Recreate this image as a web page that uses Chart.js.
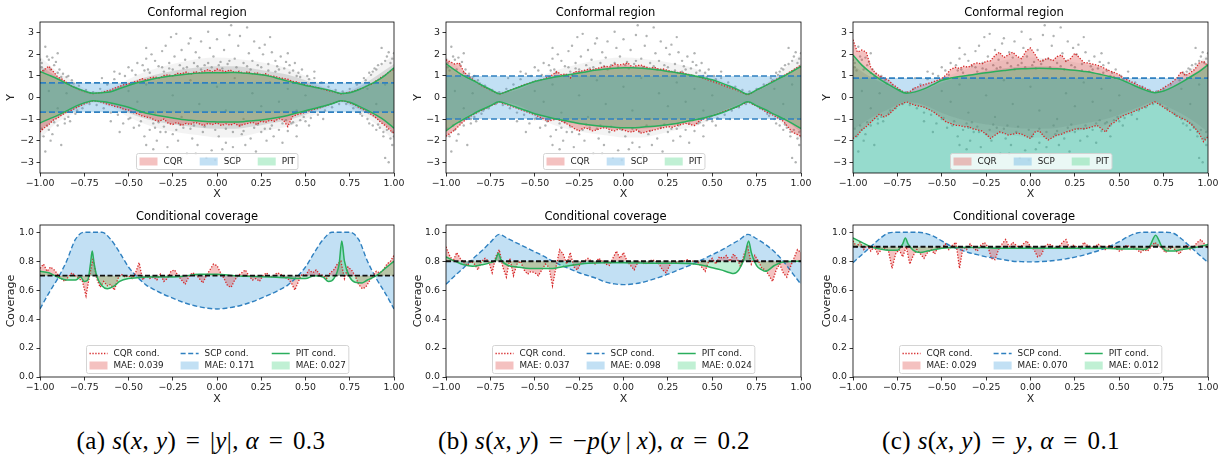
<!DOCTYPE html>
<html lang="en">
<head>
<meta charset="UTF-8">
<title>Conformal regions and conditional coverage</title>
<script src="https://cdn.jsdelivr.net/npm/chart.js@4.4.1/dist/chart.umd.min.js"></script>
<style>
    body { margin: 0; background: #fff; width: 1230px; height: 456px; position: relative; overflow: hidden; }
    canvas { position: absolute; }
    .cap {
        position: absolute; top: 428px; line-height: 26px;
        font-family: "Liberation Serif", "DejaVu Serif", serif; font-size: 25px; letter-spacing: 0.4px;
        white-space: nowrap; transform: translateX(-50%); color: #000;
    }
    .eq { margin: 0 3px; }
</style>
</head>
<body>
<canvas id="regA" width="410" height="205" style="left:0;top:0"></canvas>
<canvas id="regB" width="410" height="205" style="left:410px;top:0"></canvas>
<canvas id="regC" width="410" height="205" style="left:820px;top:0"></canvas>
<canvas id="covA" width="410" height="205" style="left:0;top:205px"></canvas>
<canvas id="covB" width="410" height="205" style="left:410px;top:205px"></canvas>
<canvas id="covC" width="410" height="205" style="left:820px;top:205px"></canvas>

<div class="cap" style="left:201px">(a) <i>s</i>(<i>x</i>, <i>y</i>) <span class="eq">=</span> |<i>y</i>|, <i>α</i> <span class="eq">=</span> 0.3</div>
<div class="cap" style="left:594px">(b) <i>s</i>(<i>x</i>, <i>y</i>) <span class="eq">=</span> −<i>p</i>(<i>y</i>&thinsp;|&thinsp;<i>x</i>), <i>α</i> <span class="eq">=</span> 0.2</div>
<div class="cap" style="left:1001px">(c) <i>s</i>(<i>x</i>, <i>y</i>) <span class="eq">=</span> <i>y</i>, <i>α</i> <span class="eq">=</span> 0.1</div>

<script>
// ---- data ----
const xTicks = [-1, -0.75, -0.5, -0.25, 0, 0.25, 0.5, 0.75, 1];
const yTicksRegion = [-3, -2, -1, 0, 1, 2, 3];
const yTicksCoverage = [0, 0.2, 0.4, 0.6, 0.8, 1.0];

const targetCoverage = [0.7, 0.8, 0.9];
const scpHalfWidth = [0.68, 1.0, 0.9];   // (c) is one-sided: only the upper bound
const maeCQR = ['0.039', '0.037', '0.029'];
const maeSCP = ['0.171', '0.098', '0.070'];
const maePIT = ['0.027', '0.024', '0.012'];

// where the point cloud is dense (x = -1..1 step 0.1): inner core and outer halo
const coreHi = [1.5, 0.95, 0.55, 0.22, 0.35, 0.7, 0.95, 1.15, 1.3, 1.4, 1.45, 1.45, 1.35, 1.2, 1.05, 0.8, 0.48, 0.22, 0.5, 1.0, 1.55];
const coreLo = [-1.5, -0.95, -0.55, -0.2, -0.35, -0.72, -1.0, -1.18, -1.3, -1.4, -1.45, -1.45, -1.35, -1.2, -1.05, -0.8, -0.48, -0.2, -0.55, -1.0, -1.6];
const haloHi = [1.9, 1.2, 0.7, 0.3, 0.45, 0.85, 1.2, 1.45, 1.65, 1.8, 1.85, 1.8, 1.7, 1.55, 1.35, 1.0, 0.6, 0.3, 0.65, 1.3, 2.0];
const haloLo = [-1.9, -1.15, -0.7, -0.25, -0.45, -0.9, -1.25, -1.5, -1.65, -1.75, -1.85, -1.85, -1.7, -1.5, -1.35, -1.0, -0.6, -0.25, -0.7, -1.25, -2.0];

// sparse samples (x, y), same data set in the three panels
const samples = [
    [-0.99, 1.6], [-0.97, 2.35], [-0.96, 1.9], [-0.95, 1.75], [-0.93, 1.85], [-0.92, 1.5], [-0.9, 2.05], [-0.89, 1.3],
    [-0.87, 1.1], [-0.98, -1.8], [-0.97, -2.5], [-0.95, -1.5], [-0.93, -1.7], [-0.9, -1.3], [-0.88, -2.2], [-0.86, -1.0],
    [-0.99, 1.4], [-0.94, -2.0], [-0.91, 1.65], [-0.85, 0.95], [-0.84, -0.9], [-0.82, 0.8], [-0.8, -0.75],
    [-0.78, 0.55], [-0.76, -0.5], [-0.74, 0.35], [-0.72, -0.3], [-0.7, 0.25], [-0.68, -0.35], [-0.66, 0.4], [-0.64, -0.5],
    [-0.62, 0.6], [-0.6, -0.7], [-0.58, 0.85], [-0.56, -0.8],
    [-0.55, 1.1], [-0.53, -1.2], [-0.5, 1.4], [-0.5, -1.0], [-0.48, 1.25], [-0.47, -1.4], [-0.45, 1.6], [-0.44, -1.3],
    [-0.42, 1.5], [-0.41, -1.8], [-0.4, 1.8], [-0.39, 1.3], [-0.38, -1.5], [-0.37, 2.0], [-0.36, -1.2], [-0.35, 1.7],
    [-0.34, -2.0], [-0.33, 1.45], [-0.32, -1.6], [-0.31, 2.15], [-0.3, 1.2], [-0.3, -1.35],
    [-0.29, 2.4], [-0.28, -2.3], [-0.27, 1.6], [-0.26, 2.8], [-0.25, -1.7], [-0.24, 1.9], [-0.23, 2.95], [-0.22, -2.0],
    [-0.21, 1.5], [-0.2, 2.2], [-0.19, -1.4], [-0.18, 1.75], [-0.17, -2.6], [-0.16, 2.5], [-0.15, 2.75], [-0.14, -1.9],
    [-0.13, 1.6], [-0.12, 2.1], [-0.11, -2.2], [-0.1, 1.85], [-0.09, 2.6], [-0.08, -1.6], [-0.07, 1.5], [-0.06, -2.8],
    [-0.05, 3.05], [-0.04, 2.3], [-0.03, -2.45], [-0.02, 1.9], [-0.01, -2.9], [0, 2.7], [0.01, -1.8], [0.02, 1.65],
    [0.03, -2.4], [0.04, 2.2], [0.05, -2.1], [0.06, 1.55], [0.07, 2.9], [0.08, 3.35], [0.09, -2.3], [0.1, 1.8],
    [0.11, -2.7], [0.12, 2.4], [0.13, 2.85], [0.14, -1.7], [0.15, 1.6], [0.16, -2.2], [0.17, 3.25], [0.18, 2.05],
    [0.19, -1.9], [0.2, 1.7], [0.21, 2.6], [0.22, -2.5], [0.23, 1.5], [0.24, 2.3], [0.25, -1.6], [0.26, 2.0],
    [0.27, 2.45], [0.28, -2.0], [0.29, 1.55], [0.3, -1.45],
    [0.31, 2.1], [0.32, -1.8], [0.33, 1.7], [0.34, 1.45], [0.35, -1.5], [0.36, 1.9], [0.37, -2.1], [0.38, 1.35],
    [0.39, 1.65], [0.4, -1.55], [0.41, 1.5], [0.42, -1.2], [0.43, 1.25], [0.44, 1.6], [0.45, -1.3], [0.46, 1.15],
    [0.47, -1.05], [0.48, 1.3], [0.5, -1.1], [0.51, 1.0], [0.53, -0.95], [0.55, 0.9],
    [0.57, -0.8], [0.59, 0.7], [0.61, -0.6], [0.63, 0.5], [0.65, -0.45], [0.67, 0.35], [0.69, -0.3], [0.71, 0.28],
    [0.73, -0.3], [0.75, 0.4], [0.77, -0.5], [0.79, 0.6], [0.81, -0.75],
    [0.83, 0.9], [0.85, -1.0], [0.86, 1.15], [0.88, -1.3], [0.89, 1.35], [0.9, -1.5], [0.91, 1.5], [0.92, -1.4],
    [0.93, 2.3], [0.94, -1.8], [0.95, 1.7], [0.95, -2.8], [0.96, 1.9], [0.97, -3.0], [0.97, 2.1], [0.98, -1.9],
    [0.99, 1.8], [0.99, -2.2], [1.0, 2.05], [0.87, 1.05],
    [-0.95, 0.3], [-0.9, -0.5], [-0.85, 0.2], [-0.5, 0.3], [-0.45, -0.2], [-0.4, 0.6], [-0.35, -0.7], [-0.25, 0.1],
    [-0.2, -0.9], [-0.15, 0.8], [-0.1, -0.3], [0, 0.5], [0.05, -0.6], [0.1, 0.9], [0.15, -1.0], [0.2, 0.2],
    [0.25, -0.4], [0.3, 0.7], [0.35, -0.2], [0.4, 0.4], [0.45, -0.6], [0.5, 0.1], [0.85, 0.4], [0.9, -0.3], [0.95, 0.6],
    [-1.0, 1.75], [-0.98, 1.25], [-0.96, -1.3], [-0.99, -1.45], [-0.94, 1.3], [-0.92, -1.15], [-0.9, 1.15], [-0.88, 0.95],
    [-0.86, -1.2], [-0.84, 1.0], [-0.83, -1.1], [-0.81, 0.65], [-0.79, -0.6],
    [-0.52, 1.0], [-0.49, -0.95], [-0.46, 1.05], [-0.43, -1.1], [-0.41, 1.25], [-0.38, 1.15], [-0.35, -1.4], [-0.33, -1.15],
    [-0.31, 1.4], [-0.29, -1.6], [-0.27, 1.35], [-0.25, 1.3], [-0.23, -1.5], [-0.21, -1.25], [-0.19, 1.35], [-0.17, 1.4],
    [-0.15, -1.45], [-0.13, -1.3], [-0.11, 1.45], [-0.09, 1.3], [-0.07, -1.35], [-0.05, 1.6], [-0.03, 1.4], [-0.01, -1.5],
    [0.01, 1.5], [0.03, 1.35], [0.05, -1.45], [0.07, 1.7], [0.09, -1.6], [0.11, 1.4], [0.13, -1.3], [0.15, -1.55],
    [0.17, 1.45], [0.19, 1.3], [0.21, -1.4], [0.23, -1.25], [0.25, 1.4], [0.27, -1.45], [0.29, 1.25], [0.31, -1.3],
    [0.33, 1.2], [0.35, 1.3], [0.37, -1.2], [0.39, -1.05], [0.41, 1.15], [0.43, -1.15], [0.45, 1.0], [0.47, 0.95],
    [0.49, -0.9], [0.52, 0.85],
    [0.82, -0.85], [0.84, 0.8], [0.86, -1.2], [0.88, 1.2], [0.9, 1.3], [0.91, -1.25], [0.93, 1.55], [0.94, -1.6],
    [0.96, -1.5], [0.98, 1.6], [0.99, -1.6], [1.0, -1.8],
    [-0.6, -1.1], [-0.58, 1.2], [-0.55, -1.6], [-0.4, 2.3], [-0.36, -2.4], [0.4, 2.05], [0.45, -1.8], [0.52, -1.3],
    [0.55, 1.2], [0.6, -1.0], [-0.65, 0.9], [-0.2, -2.8], [0.1, -3.0], [-0.12, -2.6], [0.3, 2.8], [-0.4, -2.2]
];

// PIT region bounds (x = -1..1 step 0.05)
const pitHiA = [1.21, 1.04, 0.86, 0.65, 0.45, 0.3, 0.2, 0.22, 0.27, 0.42, 0.56, 0.68, 0.79, 0.88, 0.95, 1.01, 1.06, 1.1, 1.13, 1.15, 1.15, 1.15, 1.16, 1.13, 1.1, 1.05, 0.98, 0.87, 0.76, 0.66, 0.56, 0.48, 0.4, 0.3, 0.19, 0.22, 0.36, 0.55, 0.76, 1.03, 1.38];
const pitLoA = [-1.18, -1.0, -0.83, -0.62, -0.41, -0.25, -0.15, -0.19, -0.26, -0.35, -0.45, -0.6, -0.73, -0.81, -0.88, -0.95, -1.02, -1.06, -1.09, -1.12, -1.13, -1.14, -1.14, -1.12, -1.08, -1.04, -0.99, -0.92, -0.83, -0.72, -0.61, -0.51, -0.41, -0.29, -0.15, -0.22, -0.4, -0.6, -0.82, -1.08, -1.42];
const pitHiB = [1.57, 1.27, 1.0, 0.8, 0.58, 0.37, 0.17, 0.3, 0.45, 0.6, 0.74, 0.84, 0.93, 1.0, 1.07, 1.14, 1.21, 1.27, 1.32, 1.36, 1.38, 1.38, 1.36, 1.32, 1.27, 1.21, 1.15, 1.08, 1.0, 0.92, 0.82, 0.68, 0.52, 0.34, 0.15, 0.35, 0.55, 0.76, 0.98, 1.2, 1.44];
const pitLoB = [-1.55, -1.25, -1.0, -0.78, -0.57, -0.38, -0.2, -0.32, -0.46, -0.6, -0.75, -0.86, -0.96, -1.04, -1.12, -1.2, -1.26, -1.31, -1.35, -1.38, -1.4, -1.4, -1.38, -1.35, -1.31, -1.26, -1.2, -1.12, -1.04, -0.95, -0.85, -0.72, -0.56, -0.38, -0.2, -0.38, -0.57, -0.78, -0.98, -1.2, -1.44];
const pitHiC = [1.97, 1.5, 1.15, 0.85, 0.6, 0.37, 0.2, 0.26, 0.4, 0.6, 0.8, 0.9, 0.97, 1.03, 1.09, 1.15, 1.2, 1.25, 1.3, 1.33, 1.35, 1.36, 1.35, 1.33, 1.3, 1.26, 1.21, 1.15, 1.06, 0.96, 0.85, 0.68, 0.5, 0.33, 0.22, 0.3, 0.48, 0.7, 0.95, 1.2, 1.52];

// CQR region bounds (x = -1..1 step 0.025)
const cqrHiA = [1.15, 1.3, 1.45, 1.2, 0.95, 0.85, 0.7, 0.55, 0.45, 0.35, 0.28, 0.22, 0.18, 0.2, 0.24, 0.3, 0.35, 0.45, 0.52, 0.6, 0.62, 0.72, 0.75, 0.88, 0.82, 0.92, 0.95, 0.9, 1.02, 1.05, 1.0, 1.12, 1.1, 1.18, 1.08, 1.2, 1.15, 1.22, 1.3, 1.18, 1.32, 1.25, 1.2, 1.28, 1.15, 1.22, 1.12, 1.2, 1.1, 1.15, 1.05, 1.1, 1.0, 0.98, 0.92, 0.88, 0.85, 0.75, 0.72, 0.65, 0.58, 0.55, 0.48, 0.45, 0.38, 0.32, 0.28, 0.22, 0.17, 0.2, 0.25, 0.3, 0.38, 0.45, 0.55, 0.62, 0.78, 0.92, 1.05, 1.2, 1.3];
const cqrLoA = [-1.6, -1.4, -1.25, -1.05, -0.95, -0.8, -0.68, -0.6, -0.5, -0.38, -0.3, -0.22, -0.15, -0.18, -0.22, -0.3, -0.35, -0.42, -0.45, -0.55, -0.58, -0.7, -0.75, -0.85, -0.9, -0.95, -1.05, -1.1, -1.0, -1.2, -1.25, -1.15, -1.3, -1.2, -1.25, -1.15, -1.22, -1.3, -1.2, -1.25, -1.18, -1.3, -1.22, -1.28, -1.2, -1.32, -1.25, -1.2, -1.15, -1.25, -1.1, -1.15, -1.05, -1.1, -0.98, -1.05, -1.35, -0.9, -0.8, -0.75, -0.68, -0.6, -0.55, -0.5, -0.42, -0.35, -0.28, -0.22, -0.15, -0.18, -0.25, -0.32, -0.45, -0.55, -0.68, -0.8, -0.95, -1.15, -1.3, -1.5, -1.65];
const cqrHiB = [1.75, 1.65, 1.55, 1.6, 1.2, 1.0, 0.85, 0.7, 0.55, 0.45, 0.35, 0.25, 0.15, 0.22, 0.3, 0.38, 0.45, 0.55, 0.62, 0.68, 0.75, 0.8, 0.85, 0.95, 1.05, 1.2, 1.05, 1.1, 0.9, 1.2, 1.2, 1.25, 1.3, 1.28, 1.35, 1.4, 1.45, 1.42, 1.55, 1.5, 1.55, 1.6, 1.4, 1.48, 1.5, 1.42, 1.35, 1.4, 1.3, 1.32, 1.25, 1.2, 1.15, 1.18, 1.1, 1.05, 1.0, 0.95, 0.9, 0.82, 0.75, 0.68, 0.6, 0.52, 0.45, 0.38, 0.3, 0.2, 0.12, 0.22, 0.35, 0.45, 0.55, 0.68, 0.8, 0.9, 1.0, 1.12, 1.25, 1.38, 1.5];
const cqrLoB = [-1.8, -1.65, -1.5, -1.3, -1.1, -0.95, -0.8, -0.7, -0.6, -0.5, -0.4, -0.3, -0.2, -0.28, -0.35, -0.42, -0.5, -0.58, -0.65, -0.72, -0.8, -0.9, -1.0, -1.1, -1.05, -1.0, -1.1, -1.2, -1.3, -1.45, -1.55, -1.4, -1.45, -1.55, -1.5, -1.42, -1.4, -1.5, -1.55, -1.45, -1.5, -1.58, -1.6, -1.5, -1.65, -1.6, -1.55, -1.5, -1.45, -1.4, -1.35, -1.38, -1.3, -1.25, -1.2, -1.25, -1.3, -1.1, -1.0, -0.92, -0.85, -0.78, -0.7, -0.62, -0.55, -0.48, -0.4, -0.3, -0.2, -0.3, -0.4, -0.52, -0.65, -0.75, -0.85, -0.98, -1.1, -1.35, -1.6, -1.7, -1.8];
const cqrHiC = [2.68, 2.1, 2.2, 2.1, 1.4, 1.15, 1.0, 0.9, 0.8, 0.6, 0.45, 0.3, 0.22, 0.3, 0.45, 0.52, 0.6, 0.66, 0.72, 0.8, 0.88, 1.05, 1.3, 1.4, 1.35, 1.45, 1.4, 1.55, 1.6, 1.55, 1.68, 1.7, 1.95, 2.1, 1.85, 1.98, 2.1, 1.9, 1.8, 2.15, 2.3, 2.0, 1.67, 1.75, 1.82, 1.7, 1.9, 1.97, 1.67, 1.8, 2.05, 1.85, 1.62, 1.6, 1.55, 1.5, 1.42, 1.32, 1.22, 1.15, 1.05, 0.88, 0.8, 0.7, 0.6, 0.5, 0.42, 0.3, 0.22, 0.32, 0.45, 0.58, 0.72, 0.9, 1.2, 1.02, 1.15, 1.3, 1.6, 1.68, 1.45];
const cqrLoC = [-1.9, -1.75, -1.5, -1.35, -1.15, -0.95, -0.76, -0.9, -0.8, -0.6, -0.38, -0.3, -0.2, -0.28, -0.36, -0.4, -0.45, -0.55, -0.65, -0.8, -0.95, -1.14, -1.2, -1.29, -1.3, -1.36, -1.35, -1.45, -1.5, -1.55, -1.7, -1.9, -1.75, -1.6, -1.65, -1.74, -1.7, -1.65, -1.7, -1.8, -1.9, -1.6, -1.55, -1.8, -1.97, -1.85, -1.74, -1.7, -1.6, -1.55, -1.47, -1.44, -1.45, -1.42, -1.35, -1.29, -1.45, -1.6, -1.25, -1.14, -0.95, -0.83, -0.75, -0.68, -0.58, -0.5, -0.42, -0.3, -0.2, -0.32, -0.45, -0.6, -0.72, -0.85, -0.95, -1.05, -1.2, -1.4, -1.65, -2.05, -1.82];

// conditional coverage, SCP (x = -1..1 step 0.05)
const scpCovA = [0.47, 0.58, 0.68, 0.8, 0.95, 1.0, 1.0, 1.0, 0.95, 0.86, 0.76, 0.69, 0.635, 0.6, 0.57, 0.545, 0.52, 0.5, 0.485, 0.475, 0.47, 0.475, 0.485, 0.5, 0.52, 0.545, 0.57, 0.6, 0.635, 0.69, 0.76, 0.86, 0.95, 1.0, 1.0, 1.0, 0.95, 0.8, 0.68, 0.58, 0.47];
const scpCovB = [0.64, 0.70, 0.755, 0.815, 0.87, 0.93, 0.985, 0.955, 0.925, 0.895, 0.865, 0.835, 0.8, 0.77, 0.745, 0.72, 0.7, 0.68, 0.655, 0.643, 0.638, 0.642, 0.652, 0.668, 0.688, 0.71, 0.735, 0.76, 0.785, 0.815, 0.845, 0.875, 0.91, 0.945, 0.985, 0.955, 0.915, 0.865, 0.8, 0.72, 0.64];
const scpCovC = [0.79, 0.845, 0.9, 0.955, 0.995, 1.0, 1.0, 1.0, 0.995, 0.975, 0.94, 0.905, 0.88, 0.86, 0.845, 0.83, 0.82, 0.81, 0.8, 0.797, 0.795, 0.797, 0.8, 0.807, 0.816, 0.828, 0.842, 0.86, 0.88, 0.905, 0.935, 0.97, 0.995, 1.0, 1.0, 1.0, 0.995, 0.955, 0.9, 0.845, 0.79];

// conditional coverage, CQR (x = -1..1 step 0.02)
const cqrCovA = [0.75, 0.78, 0.73, 0.76, 0.74, 0.71, 0.68, 0.66, 0.69, 0.72, 0.70, 0.68, 0.66, 0.56, 0.70, 0.82, 0.68, 0.62, 0.66, 0.63, 0.64, 0.60, 0.68, 0.71, 0.69, 0.70, 0.68, 0.72, 0.79, 0.67, 0.70, 0.68, 0.69, 0.67, 0.71, 0.66, 0.68, 0.73, 0.74, 0.70, 0.67, 0.64, 0.69, 0.72, 0.71, 0.68, 0.65, 0.70, 0.74, 0.78, 0.77, 0.72, 0.68, 0.63, 0.62, 0.67, 0.70, 0.72, 0.74, 0.70, 0.67, 0.68, 0.66, 0.70, 0.72, 0.69, 0.70, 0.72, 0.71, 0.69, 0.68, 0.65, 0.60, 0.66, 0.71, 0.70, 0.74, 0.72, 0.74, 0.71, 0.70, 0.68, 0.72, 0.74, 0.78, 0.80, 0.68, 0.76, 0.74, 0.70, 0.64, 0.61, 0.62, 0.66, 0.70, 0.73, 0.72, 0.74, 0.78, 0.80, 0.84];
const cqrCovB = [0.9, 0.84, 0.8, 0.86, 0.82, 0.79, 0.77, 0.8, 0.78, 0.74, 0.8, 0.82, 0.8, 0.72, 0.83, 0.88, 0.76, 0.69, 0.82, 0.7, 0.78, 0.8, 0.74, 0.71, 0.73, 0.72, 0.7, 0.74, 0.78, 0.76, 0.63, 0.76, 0.88, 0.85, 0.78, 0.86, 0.76, 0.74, 0.79, 0.8, 0.82, 0.8, 0.78, 0.82, 0.8, 0.78, 0.77, 0.82, 0.87, 0.82, 0.86, 0.8, 0.77, 0.74, 0.79, 0.8, 0.78, 0.79, 0.81, 0.8, 0.78, 0.74, 0.72, 0.77, 0.8, 0.79, 0.8, 0.8, 0.81, 0.8, 0.8, 0.79, 0.76, 0.73, 0.8, 0.82, 0.78, 0.83, 0.82, 0.84, 0.8, 0.85, 0.82, 0.76, 0.85, 0.9, 0.78, 0.84, 0.8, 0.75, 0.74, 0.7, 0.66, 0.74, 0.78, 0.72, 0.69, 0.76, 0.82, 0.88, 0.86];
const cqrCovC = [0.94, 0.9, 0.93, 0.88, 0.91, 0.87, 0.9, 0.85, 0.88, 0.89, 0.87, 0.75, 0.85, 0.88, 0.83, 0.9, 0.78, 0.84, 0.88, 0.85, 0.82, 0.86, 0.88, 0.85, 0.9, 0.89, 0.92, 0.88, 0.91, 0.93, 0.75, 0.9, 0.88, 0.92, 0.89, 0.87, 0.91, 0.93, 0.9, 0.82, 0.81, 0.88, 0.92, 0.95, 0.9, 0.93, 0.91, 0.89, 0.92, 0.94, 0.9, 0.88, 0.83, 0.84, 0.9, 0.92, 0.91, 0.89, 0.9, 0.93, 0.95, 0.89, 0.91, 0.9, 0.88, 0.93, 0.91, 0.9, 0.89, 0.92, 0.9, 0.88, 0.91, 0.9, 0.89, 0.87, 0.88, 0.91, 0.9, 0.89, 0.88, 0.86, 0.88, 0.87, 0.9, 0.93, 0.91, 0.89, 0.86, 0.88, 0.9, 0.87, 0.85, 0.89, 0.91, 0.88, 0.9, 0.93, 0.95, 0.92, 0.89];

// conditional coverage, PIT (irregular x)
const pitCovXA = [-1, -0.95, -0.9, -0.85, -0.8, -0.77, -0.75, -0.73, -0.715, -0.705, -0.695, -0.68, -0.65, -0.62, -0.58, -0.55, -0.5, -0.45, -0.4, -0.3, -0.2, -0.1, 0, 0.1, 0.2, 0.3, 0.4, 0.45, 0.5, 0.55, 0.6, 0.63, 0.66, 0.69, 0.705, 0.72, 0.75, 0.78, 0.82, 0.85, 0.9, 0.95, 1];
const pitCovA = [0.73, 0.72, 0.69, 0.67, 0.67, 0.69, 0.66, 0.67, 0.78, 0.87, 0.79, 0.7, 0.63, 0.61, 0.63, 0.66, 0.68, 0.685, 0.69, 0.69, 0.695, 0.71, 0.71, 0.7, 0.695, 0.69, 0.685, 0.68, 0.68, 0.7, 0.69, 0.66, 0.68, 0.78, 0.94, 0.8, 0.69, 0.655, 0.65, 0.67, 0.7, 0.75, 0.8];
const pitCovXB = [-1, -0.95, -0.9, -0.85, -0.8, -0.75, -0.72, -0.705, -0.69, -0.65, -0.6, -0.55, -0.5, -0.4, -0.35, -0.3, -0.2, -0.1, 0, 0.1, 0.2, 0.3, 0.4, 0.45, 0.5, 0.55, 0.6, 0.62, 0.65, 0.68, 0.705, 0.72, 0.75, 0.78, 0.8, 0.85, 0.9, 1];
const pitCovB = [0.83, 0.8, 0.775, 0.765, 0.775, 0.79, 0.81, 0.855, 0.81, 0.77, 0.76, 0.752, 0.75, 0.75, 0.76, 0.77, 0.785, 0.79, 0.79, 0.787, 0.785, 0.785, 0.78, 0.77, 0.755, 0.74, 0.72, 0.715, 0.74, 0.82, 0.94, 0.86, 0.77, 0.74, 0.73, 0.77, 0.795, 0.8];
const pitCovXC = [-1, -0.95, -0.9, -0.85, -0.8, -0.75, -0.72, -0.705, -0.69, -0.66, -0.62, -0.58, -0.5, -0.4, -0.3, -0.2, -0.1, 0, 0.1, 0.2, 0.3, 0.4, 0.5, 0.6, 0.64, 0.67, 0.705, 0.74, 0.77, 0.8, 0.85, 0.9, 0.95, 1];
const pitCovC = [0.96, 0.93, 0.9, 0.885, 0.875, 0.875, 0.92, 0.96, 0.92, 0.875, 0.86, 0.87, 0.89, 0.895, 0.895, 0.89, 0.89, 0.89, 0.89, 0.89, 0.89, 0.89, 0.885, 0.885, 0.88, 0.9, 0.98, 0.9, 0.87, 0.87, 0.88, 0.89, 0.9, 0.915];

// ---- styling ----
const FONT = '"DejaVu Sans", sans-serif';
const RED = '#d62728', RED_FILL = 'rgba(220, 50, 47, 0.3)';
const BLUE = '#2f80c0', BLUE_FILL = 'rgba(52, 152, 219, 0.3)';
const GREEN = '#2aae5c', GREEN_FILL = 'rgba(46, 204, 113, 0.3)';
const CORE_FILL = 'rgba(80, 85, 85, 0.17)', HALO_FILL = 'rgba(80, 85, 85, 0.07)';
const DOT = 'rgba(125, 128, 128, 0.6)';

const yAxisWidth = [40, 36, 33];
const rightPad = [16, 19, 22];
const yTitleOffset = [5, 1.5, 0.3];

const onGrid = ys => ys.map((y, i) => ({ x: -1 + 2 * i / (ys.length - 1), y }));
const zip = (xs, ys) => xs.map((x, i) => ({ x, y: ys[i] }));
const flat = v => [{ x: -1, y: v }, { x: 1, y: v }];
const minus = s => s.replace('-', '\u2212');

function area(data, fill, color, order, smooth) {
    return { data, fill, backgroundColor: color, borderWidth: 0, pointRadius: 0, order,
        cubicInterpolationMode: smooth ? 'monotone' : 'default' };
}
function line(data, color, dash, width, order, smooth) {
    return { data, fill: false, borderColor: color, borderDash: dash, borderWidth: width, pointRadius: 0, order,
        cubicInterpolationMode: smooth ? 'monotone' : 'default' };
}

const spines = {
    id: 'spines',
    afterDraw(chart) {
        const { ctx, chartArea: a } = chart;
        ctx.save();
        ctx.strokeStyle = '#000';
        ctx.lineWidth = 0.8;
        ctx.strokeRect(a.left, a.top, a.right - a.left, a.bottom - a.top);
        ctx.restore();
    }
};

const boxLegend = {
    id: 'boxLegend',
    afterDraw(chart, args, o) {
        if (!o.items) return;
        const { ctx, chartArea: a } = chart;
        const handle = 18, hgap = 6, cgap = 17, pad = 3, rowH = 12;
        ctx.save();
        ctx.font = '8.8px ' + FONT;
        const rows = o.rows, cols = Math.ceil(o.items.length / rows);
        const widths = [];
        for (let c = 0; c < cols; c++) {
            let w = 0;
            for (let r = 0; r < rows; r++) {
                const it = o.items[c * rows + r];
                if (it) w = Math.max(w, ctx.measureText(it.label).width);
            }
            widths.push(handle + hgap + w);
        }
        const W = widths.reduce((s, w) => s + w, 0) + cgap * (cols - 1) + 2 * pad;
        const H = rows * rowH + 4;
        const x0 = Math.round((a.left + a.right) / 2 - W / 2) + 0.5;
        const y0 = Math.round(a.bottom - 4 - H) + 0.5;
        ctx.beginPath();
        ctx.roundRect(x0, y0, W, H, 2);
        ctx.fillStyle = 'rgba(255,255,255,0.8)';
        ctx.fill();
        ctx.strokeStyle = '#d4d4d4';
        ctx.lineWidth = 1;
        ctx.stroke();
        let cx = x0 + pad;
        for (let c = 0; c < cols; c++) {
            for (let r = 0; r < rows; r++) {
                const it = o.items[c * rows + r];
                if (!it) continue;
                const cy = y0 + 2 + rowH / 2 + r * rowH;
                if (it.patch) {
                    ctx.fillStyle = it.color;
                    ctx.fillRect(cx, cy - 4, handle, 8);
                } else {
                    ctx.beginPath();
                    ctx.setLineDash(it.dash);
                    ctx.strokeStyle = it.color;
                    ctx.lineWidth = it.width;
                    ctx.moveTo(cx, cy);
                    ctx.lineTo(cx + handle, cy);
                    ctx.stroke();
                    ctx.setLineDash([]);
                }
                ctx.fillStyle = '#222';
                ctx.textBaseline = 'middle';
                ctx.textAlign = 'left';
                ctx.fillText(it.label, cx + handle + hgap, cy + 0.5);
            }
            cx += widths[c] + cgap;
        }
        ctx.restore();
    }
};

function baseOptions(k, row, yMin, yMax, yTicks, yFmt, yTitle, title, legendItems, legendRows) {
    const tickFont = { family: FONT, size: 9.4 };
    const labelFont = { family: FONT, size: 11 };
    return {
        responsive: false, animation: false, devicePixelRatio: 1,
        layout: { padding: { left: 0, right: rightPad[k], top: 0, bottom: 0 } },
        plugins: {
            legend: { display: false },
            tooltip: { enabled: false },
            title: {
                display: true, text: title, color: '#000',
                font: { family: FONT, size: 11.5, weight: 'normal' },
                padding: row === 0 ? { top: 6, bottom: 2.2 } : { top: 5, bottom: 1.2 }
            },
            boxLegend: { items: legendItems, rows: legendRows }
        },
        scales: {
            x: {
                type: 'linear', min: -1, max: 1,
                afterBuildTicks: s => { s.ticks = xTicks.map(v => ({ value: v })); },
                afterFit: s => { s.height = row === 0 ? 32 : 33; },
                ticks: { callback: v => minus(v.toFixed(2)), font: tickFont, color: '#222', padding: 1, maxRotation: 0, autoSkip: false },
                grid: { drawOnChartArea: false, tickLength: 3.5, color: '#000', lineWidth: 0.8 },
                border: { display: false },
                title: { display: true, text: 'X', font: labelFont, color: '#222', padding: { top: 0, bottom: 4.5 } }
            },
            y: {
                min: yMin, max: yMax,
                afterBuildTicks: s => { s.ticks = yTicks.map(v => ({ value: v })); },
                afterFit: s => { s.width = yAxisWidth[k]; },
                ticks: { callback: yFmt, font: tickFont, color: '#222', padding: 2.5, autoSkip: false },
                grid: { drawOnChartArea: false, tickLength: 3.5, color: '#000', lineWidth: 0.8 },
                border: { display: false },
                title: { display: true, text: yTitle, font: labelFont, color: '#222', padding: { top: yTitleOffset[k], bottom: 0 } }
            }
        }
    };
}

function regionChart(id, k, cqrHi, cqrLo, pitHi, pitLo) {
    const oneSided = !pitLo;
    const q = scpHalfWidth[k];
    const ds = [
        area(onGrid(haloHi), false, 'transparent', 32, true),
        area(onGrid(haloLo), '-1', HALO_FILL, 32, true),
        area(onGrid(coreHi), false, 'transparent', 30, true),
        area(onGrid(coreLo), '-1', CORE_FILL, 30, true),
        { data: samples.map(p => ({ x: p[0], y: p[1] })), showLine: false, pointRadius: 1.2, pointBorderWidth: 0,
          pointBackgroundColor: DOT, order: 25 },
        area(onGrid(cqrHi), false, 'transparent', 20, false),
        area(onGrid(cqrLo), '-1', RED_FILL, 20, false)
    ];
    if (oneSided) {
        ds.push(area(flat(q), 'start', BLUE_FILL, 19, false));
        ds.push(area(onGrid(pitHi), 'start', GREEN_FILL, 18, true));
    } else {
        ds.push(area(flat(q), false, 'transparent', 19, false));
        ds.push(area(flat(-q), '-1', BLUE_FILL, 19, false));
        ds.push(area(onGrid(pitHi), false, 'transparent', 18, true));
        ds.push(area(onGrid(pitLo), '-1', GREEN_FILL, 18, true));
    }
    ds.push(line(onGrid(cqrHi), RED, [1.3, 1.6], 1.3, 3, false));
    ds.push(line(onGrid(cqrLo), RED, [1.3, 1.6], 1.3, 3, false));
    ds.push(line(flat(q), BLUE, [6, 3], 1.6, 2, false));
    if (!oneSided) ds.push(line(flat(-q), BLUE, [6, 3], 1.6, 2, false));
    ds.push(line(onGrid(pitHi), GREEN, [], 1.5, 1, true));
    if (!oneSided) ds.push(line(onGrid(pitLo), GREEN, [], 1.5, 1, true));

    const items = [
        { patch: true, color: RED_FILL, label: 'CQR' },
        { patch: true, color: BLUE_FILL, label: 'SCP' },
        { patch: true, color: GREEN_FILL, label: 'PIT' }
    ];
    new Chart(document.getElementById(id), {
        type: 'line',
        data: { datasets: ds },
        options: baseOptions(k, 0, -3.5, 3.5, yTicksRegion, v => minus(String(v)), 'Y', 'Conformal region', items, 1),
        plugins: [spines, boxLegend]
    });
}

function coverageChart(id, k, scpCov, cqrCov, pitX, pitCov) {
    const t = targetCoverage[k];
    const ds = [
        area(onGrid(scpCov), { value: t }, BLUE_FILL, 20, true),
        area(onGrid(cqrCov), { value: t }, RED_FILL, 19, false),
        area(zip(pitX, pitCov), { value: t }, GREEN_FILL, 18, true),
        line(onGrid(scpCov), BLUE, [5, 2.6], 1.4, 4, true),
        line(onGrid(cqrCov), RED, [1.3, 1.6], 1.3, 3, false),
        line(zip(pitX, pitCov), GREEN, [], 1.5, 2, true),
        line(flat(t), '#111', [5, 2.5], 1.9, 0, false)
    ];
    const items = [
        { color: RED, dash: [1.3, 1.6], width: 1.3, label: 'CQR cond.' },
        { patch: true, color: RED_FILL, label: 'MAE: ' + maeCQR[k] },
        { color: BLUE, dash: [5, 2.6], width: 1.4, label: 'SCP cond.' },
        { patch: true, color: BLUE_FILL, label: 'MAE: ' + maeSCP[k] },
        { color: GREEN, dash: [], width: 1.5, label: 'PIT cond.' },
        { patch: true, color: GREEN_FILL, label: 'MAE: ' + maePIT[k] }
    ];
    new Chart(document.getElementById(id), {
        type: 'line',
        data: { datasets: ds },
        options: baseOptions(k, 1, 0, 1.05, yTicksCoverage, v => v.toFixed(1), 'Coverage', 'Conditional coverage', items, 2),
        plugins: [spines, boxLegend]
    });
}

regionChart('regA', 0, cqrHiA, cqrLoA, pitHiA, pitLoA);
regionChart('regB', 1, cqrHiB, cqrLoB, pitHiB, pitLoB);
regionChart('regC', 2, cqrHiC, cqrLoC, pitHiC, null);
coverageChart('covA', 0, scpCovA, cqrCovA, pitCovXA, pitCovA);
coverageChart('covB', 1, scpCovB, cqrCovB, pitCovXB, pitCovB);
coverageChart('covC', 2, scpCovC, cqrCovC, pitCovXC, pitCovC);
</script>
</body>
</html>
